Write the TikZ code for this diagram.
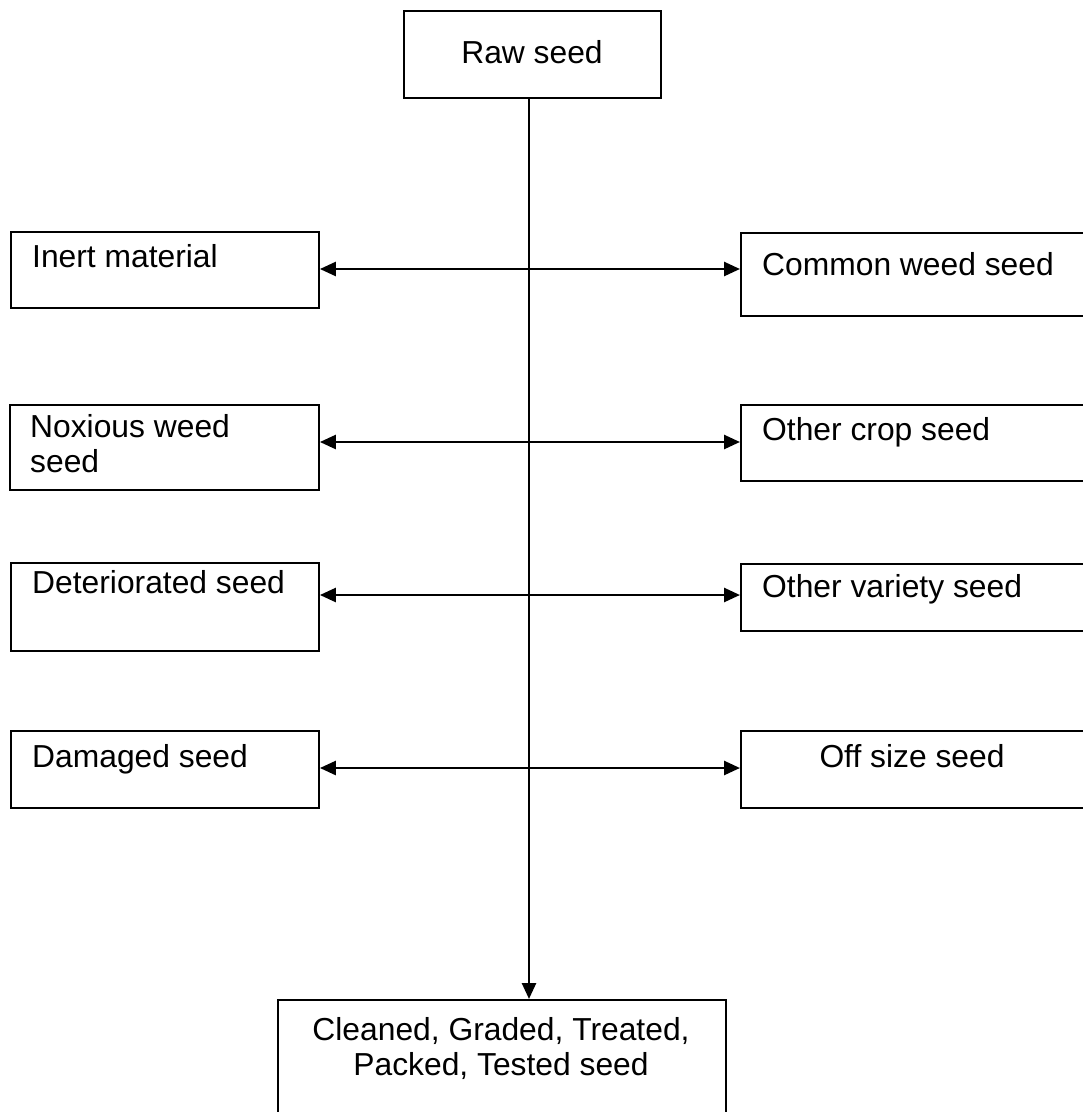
\documentclass[tikz,border=0pt]{standalone}
\usepackage{fontspec}
\setmainfont{Liberation Sans}
\usetikzlibrary{arrows.meta}
\tikzset{
  box/.style={draw=black, line width=1.9pt, inner sep=0pt, anchor=north west},
  txt/.style={inner sep=0pt, anchor=base west, font=\fontsize{31.8}{34.5}\selectfont},
  txtc/.style={inner sep=0pt, anchor=base, font=\fontsize{31.8}{34.5}\selectfont, align=center},
  conn/.style={line width=2.6pt, -{Triangle[length=16pt,width=14pt]}},
  dconn/.style={line width=2.6pt, {Triangle[length=16pt,width=14pt]}-{Triangle[length=16pt,width=14pt]}}
}
\begin{document}
\begin{tikzpicture}[x=1pt,y=1pt]
\clip (0,0) rectangle (1083,-1112);
\fill[white] (0,0) rectangle (1083,-1112);
% boxes
\node[box, minimum width=257pt, minimum height=87pt] (raw) at (403,-10) {};
\node[box, minimum width=308pt, minimum height=76pt] (inert) at (10,-231) {};
\node[box, minimum width=360pt, minimum height=83pt] (common) at (740,-232) {};
\node[box, minimum width=309pt, minimum height=85pt] (noxious) at (9,-404) {};
\node[box, minimum width=360pt, minimum height=76pt] (crop) at (740,-404) {};
\node[box, minimum width=308pt, minimum height=88pt] (deter) at (10,-562) {};
\node[box, minimum width=360pt, minimum height=67pt] (variety) at (740,-563) {};
\node[box, minimum width=308pt, minimum height=77pt] (damaged) at (10,-730) {};
\node[box, minimum width=360pt, minimum height=77pt] (offsize) at (740,-730) {};
\node[box, minimum width=448pt, minimum height=130pt] (final) at (277,-999) {};
% texts
\node[txtc] (rawt) at (532,-63) {Raw seed};
\node[txt] (inertt) at (32,-267) {Inert material};
\node[txt] (commont) at (762,-275) {Common weed seed};
\node[txt, align=left] (noxioust) at (30,-472) {Noxious weed\\seed};
\node[txt] (cropt) at (762,-440) {Other crop seed};
\node[txt] (detert) at (32,-593) {Deteriorated seed};
\node[txt] (varietyt) at (762,-597) {Other variety seed};
\node[txt] (damagedt) at (32,-767) {Damaged seed};
\node[txtc] (offsizet) at (912,-767) {Off size seed};
\node[txtc] (finalt) at (501,-1075) {Cleaned, Graded, Treated,\\Packed, Tested seed};
% connectors
\draw[conn] (raw.south -| 529,0) -- (final.north -| 529,0);
\draw[dconn] (inert.east |- 0,-269) -- (common.west |- 0,-269);
\draw[dconn] (noxious.east |- 0,-442) -- (crop.west |- 0,-442);
\draw[dconn] (deter.east |- 0,-595) -- (variety.west |- 0,-595);
\draw[dconn] (damaged.east |- 0,-768) -- (offsize.west |- 0,-768);
\end{tikzpicture}
\end{document}
